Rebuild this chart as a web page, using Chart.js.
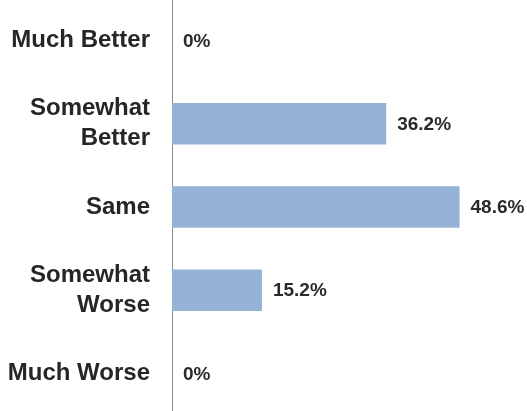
<!DOCTYPE html>
<html>
<head>
<meta charset="utf-8">
<script src="https://cdn.jsdelivr.net/npm/chart.js@4"></script>
<style>
  html, body { margin: 0; padding: 0; background: #fff; overflow: hidden; }
  #wrap { position: absolute; left: 0; top: -1px; width: 527px; height: 416px; }
</style>
</head>
<body>
<div id="wrap"><canvas id="chart" width="527" height="416"></canvas></div>
<script>
const categories = [
    'Much Better',
    ['Somewhat', 'Better'],
    'Same',
    ['Somewhat', 'Worse'],
    'Much Worse'
];
const shares = [0, 36.2, 48.6, 15.2, 0];
const valueLabels = ['0%', '36.2%', '48.6%', '15.2%', '0%'];

// draws the % text just past the end of each bar
const barLabels = {
    id: 'barLabels',
    afterDatasetsDraw(chart) {
        const ctx = chart.ctx;
        const meta = chart.getDatasetMeta(0);
        ctx.save();
        ctx.font = 'bold 19px "Liberation Sans", Arial, sans-serif';
        ctx.fillStyle = '#2a2a2a';
        ctx.textAlign = 'left';
        ctx.textBaseline = 'middle';
        meta.data.forEach((bar, i) => {
            ctx.fillText(valueLabels[i], bar.x + 11, bar.y + 1);
        });
        ctx.restore();
    }
};

new Chart(document.getElementById('chart').getContext('2d'), {
    type: 'bar',
    data: {
        labels: categories,
        datasets: [{
            data: shares,
            backgroundColor: '#95b3d7',
            borderWidth: 0,
            categoryPercentage: 1,
            barPercentage: 0.5
        }]
    },
    options: {
        indexAxis: 'y',
        responsive: false,
        animation: false,
        layout: { padding: 0 },
        plugins: {
            legend: { display: false },
            tooltip: { enabled: false }
        },
        scales: {
            x: {
                display: false,
                min: 0,
                max: 60
            },
            y: {
                grid: { display: false, drawTicks: false },
                border: { display: true, color: '#8c8c8c', width: 1 },
                ticks: {
                    padding: 22,
                    color: '#262626',
                    font: { family: '"Liberation Sans", Arial, sans-serif', size: 24, weight: 'bold', lineHeight: 1.25 }
                },
                afterFit(scale) {
                    scale.width = 172;
                    scale.paddingTop = 0;
                    scale.paddingBottom = 0;
                }
            }
        }
    },
    plugins: [barLabels]
});
</script>
</body>
</html>
